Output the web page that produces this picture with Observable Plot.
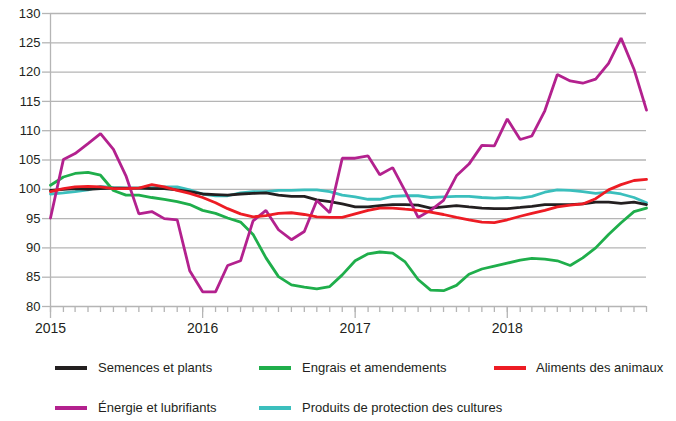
<!DOCTYPE html>
<html>
<head>
<meta charset="utf-8">
<script src="https://cdn.jsdelivr.net/npm/d3@7"></script>
<script src="https://cdn.jsdelivr.net/npm/@observablehq/plot@0.6"></script>
<style>
  body { margin: 0; background: #fff; font-family: "Liberation Sans", Arial, sans-serif; }
  #chart { width: 676px; }
  #legend { position: relative; width: 676px; height: 76px; }
  .sw { position: absolute; width: 32px; height: 3.5px; }
  .lb { position: absolute; font-size: 13px; color: #231f20; line-height: 16px; }
</style>
</head>
<body>
<div id="chart"></div>
<div id="legend"></div>
<script>
const seriesNames = ["Semences et plants", "Engrais et amendements", "Aliments des animaux", "Énergie et lubrifiants", "Produits de protection des cultures"];
const seriesColors = ["#231f20", "#1fae4b", "#ed1c24", "#b3218e", "#3bbfbd"];
const yTicks = [80, 85, 90, 95, 100, 105, 110, 115, 120, 125, 130];
const yearLabels = ["2015", "2016", "2017", "2018"];

const semences = [99.8, 100.0, 100.1, 100.0, 100.1, 100.2, 100.2, 100.2, 100.1, 100.1, 99.9, 99.6,
  99.2, 99.1, 99.0, 99.2, 99.3, 99.4, 99.0, 98.8, 98.8, 98.2, 97.9, 97.5,
  97.0, 97.0, 97.2, 97.4, 97.4, 97.3, 96.8, 97.0, 97.2, 97.0, 96.8, 96.7,
  96.7, 96.9, 97.1, 97.4, 97.4, 97.4, 97.5, 97.8, 97.8, 97.6, 97.8, 97.4];
const engrais = [100.7, 102.1, 102.7, 102.9, 102.4, 99.8, 99.0, 99.0, 98.6, 98.3, 97.9, 97.4,
  96.4, 95.9, 95.1, 94.4, 92.3, 88.3, 85.1, 83.7, 83.3, 83.0, 83.4, 85.4,
  87.8, 89.0, 89.3, 89.1, 87.6, 84.6, 82.8, 82.7, 83.6, 85.5, 86.4, 86.9,
  87.4, 87.9, 88.2, 88.1, 87.8, 87.0, 88.3, 90.0, 92.3, 94.3, 96.2, 96.8];
const aliments = [99.6, 100.1, 100.4, 100.5, 100.4, 100.1, 100.1, 100.2, 100.8, 100.4, 99.8, 99.3,
  98.6, 97.7, 96.7, 95.8, 95.3, 95.5, 95.9, 96.0, 95.7, 95.3, 95.2, 95.2,
  95.8, 96.4, 96.8, 96.8, 96.6, 96.4, 96.1, 95.7, 95.2, 94.8, 94.4, 94.3,
  94.8, 95.4, 95.9, 96.4, 97.0, 97.3, 97.5, 98.4, 99.9, 100.8, 101.5, 101.7];
const energie = [95.1, 105.1, 106.1, 107.8, 109.5, 106.8, 102.3, 95.8, 96.2, 95.0, 94.8, 86.1,
  82.5, 82.5, 87.0, 87.8, 94.6, 96.4, 93.1, 91.4, 92.8, 98.1, 96.0, 105.3,
  105.3, 105.7, 102.5, 103.7, 99.7, 95.2, 96.4, 98.1, 102.3, 104.3, 107.5, 107.4,
  112.0, 108.5, 109.1, 113.4, 119.6, 118.5, 118.1, 118.8, 121.5, 125.8, 120.5, 113.5];
const produits = [99.2, 99.4, 99.6, 99.9, 100.5, 100.3, 100.2, 100.2, 100.3, 100.4, 100.4, 99.9,
  99.2, 98.9, 98.9, 99.4, 99.6, 99.6, 99.8, 99.8, 99.9, 99.9, 99.6, 99.0,
  98.7, 98.3, 98.3, 98.8, 98.9, 98.9, 98.6, 98.7, 98.8, 98.8, 98.6, 98.5,
  98.6, 98.5, 98.8, 99.5, 99.9, 99.8, 99.6, 99.3, 99.5, 99.2, 98.6, 97.7];

const seriesValues = [semences, engrais, aliments, energie, produits];
const months = d3.utcMonths(new Date(Date.UTC(2015, 0, 1)), new Date(Date.UTC(2019, 0, 1)));
const years = yearLabels.map(y => new Date(Date.UTC(+y, 0, 1)));

const rows = [];
seriesNames.forEach((name, k) => {
  seriesValues[k].forEach((v, i) => rows.push({series: name, date: months[i], value: v}));
});
const drawOrder = [4, 0, 1, 3, 2];

const gray = "#b5b5b5";
const chart = Plot.plot({
  width: 676,
  height: 345,
  marginLeft: 50,
  marginRight: 30,
  marginTop: 13,
  marginBottom: 39,
  style: {fontFamily: "'Liberation Sans', Arial, sans-serif", color: "#231f20", background: "#fff"},
  x: {type: "utc", domain: [months[0], months[months.length - 1]]},
  y: {domain: [80, 130]},
  marks: [
    Plot.gridY(yTicks, {stroke: gray, strokeOpacity: 1, strokeWidth: 1.3}),
    Plot.axisY(yTicks, {tickSize: 8, tickPadding: 2, stroke: gray, strokeWidth: 1.3, fontSize: 13, label: null, fill: "#231f20"}),
    Plot.ruleX([months[0]], {y1: 80, y2: 130, stroke: gray, strokeWidth: 1.3}),
    Plot.axisX(months, {tickSize: 6, tickFormat: () => "", stroke: gray, strokeWidth: 1.3, label: null}),
    Plot.axisX(years, {tickSize: 12, tickPadding: 5, tickFormat: d => String(d.getUTCFullYear()), stroke: gray, strokeWidth: 1.3, fontSize: 14, label: null, fill: "#231f20"}),
    ...drawOrder.map(k => Plot.lineY(rows.filter(r => r.series === seriesNames[k]), {
      x: "date", y: "value", stroke: seriesColors[k], strokeWidth: 2.8, strokeLinejoin: "miter"
    }))
  ]
});
document.getElementById("chart").appendChild(chart);

const legend = document.getElementById("legend");
const legPos = [[55, 98, 23], [259, 302, 23], [494, 536, 23], [55, 98, 63], [259, 302, 63]];
seriesNames.forEach((name, k) => {
  const [sx, tx, cy] = legPos[k];
  const sw = document.createElement("div");
  sw.className = "sw";
  sw.style.left = sx + "px";
  sw.style.top = (cy - 2) + "px";
  sw.style.background = seriesColors[k];
  legend.appendChild(sw);
  const lb = document.createElement("div");
  lb.className = "lb";
  lb.style.left = tx + "px";
  lb.style.top = (cy - 8) + "px";
  lb.textContent = name;
  legend.appendChild(lb);
});
</script>
</body>
</html>
